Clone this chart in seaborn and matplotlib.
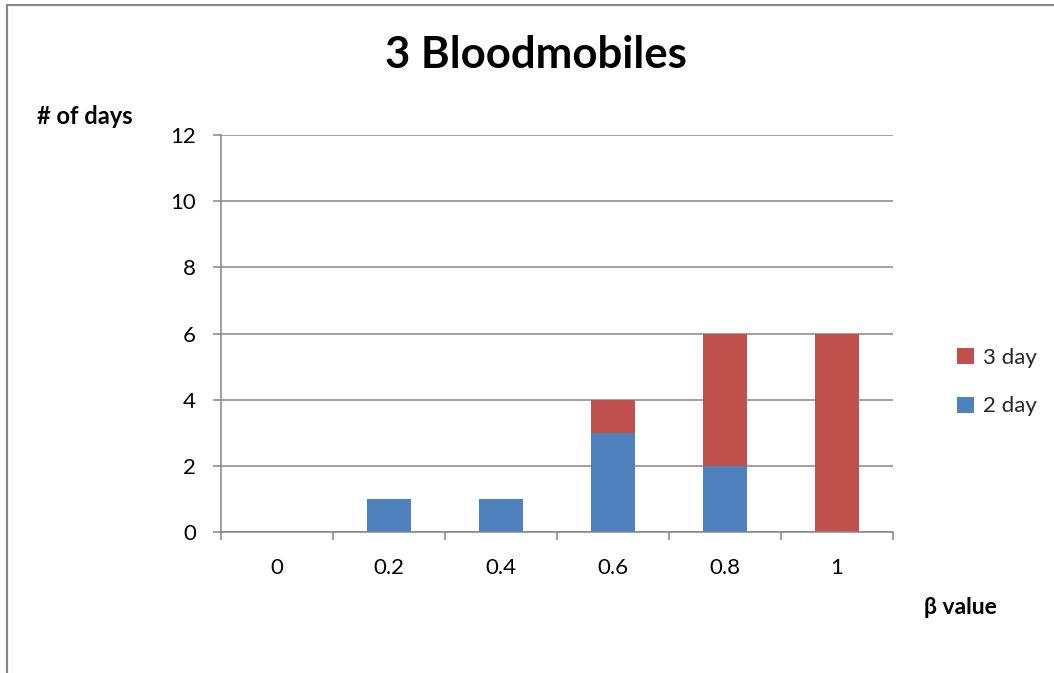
import matplotlib
matplotlib.use("Agg")
import matplotlib.pyplot as plt
from matplotlib.lines import Line2D
from matplotlib.patches import Patch
import seaborn as sns
import pandas as pd

beta_values = ["0", "0.2", "0.4", "0.6", "0.8", "1"]
two_day = [0, 1, 1, 3, 2, 0]
three_day = [0, 0, 0, 1, 4, 6]

BLUE = "#4F81BD"
RED = "#C0504D"
GRID = "#868686"

sns.set_theme(style="white")
plt.rcParams["font.family"] = ["Lato", "DejaVu Sans"]

df = pd.DataFrame({"beta": beta_values, "two": two_day, "three": three_day})
df["total"] = df["two"] + df["three"]

fig = plt.figure(figsize=(10.54, 6.73), dpi=100)
ax = fig.add_axes([221 / 1054, 1 - 532 / 673, 672 / 1054, 397 / 673])

# stacked bars: full height in red, the 2-day part drawn over it in blue
sns.barplot(data=df, x="beta", y="total", color=RED, width=0.4, saturation=1,
            linewidth=0, ax=ax, order=beta_values)
sns.barplot(data=df, x="beta", y="two", color=BLUE, width=0.4, saturation=1,
            linewidth=0, ax=ax, order=beta_values)

ax.set_xlim(-0.5, 5.5)
ax.set_ylim(0, 12)
ax.set_yticks(range(0, 13, 2))
ax.yaxis.grid(True, color=GRID, linewidth=1.1)
ax.set_axisbelow(True)
for side in ("top", "right"):
    ax.spines[side].set_visible(False)
for side in ("left", "bottom"):
    ax.spines[side].set_color(GRID)
    ax.spines[side].set_linewidth(1.1)

ax.set_xticks(range(6))
ax.set_xticklabels(beta_values)
ax.set_xticks([i - 0.5 for i in range(7)], minor=True)
ax.tick_params(axis="x", which="major", length=0, pad=19, labelsize=16,
               labelcolor="black")
ax.tick_params(axis="x", which="minor", length=6, width=1.1, color=GRID,
               direction="out", bottom=True)
ax.tick_params(axis="y", which="major", length=6, width=1.1, color=GRID,
               direction="out", left=True, pad=12, labelsize=16,
               labelcolor="black")
ax.set_xlabel("")
ax.set_ylabel("")

fig.text(536 / 1054, 1 - 55 / 673, "3 Bloodmobiles", ha="center", va="center",
         fontsize=31.5, fontweight="bold", color="black")
fig.text(37 / 1054, 1 - 117 / 673, "# of days", ha="left", va="center",
         fontsize=17, fontweight="bold", color="black")
fig.text(960 / 1054, 1 - 608 / 673, "β value", ha="center", va="center",
         fontsize=16.5, fontweight="bold", color="black")

handles = [Patch(facecolor=RED, edgecolor="none", label="3 day"),
           Patch(facecolor=BLUE, edgecolor="none", label="2 day")]
fig.legend(handles=handles, loc="center left",
           bbox_to_anchor=(937 / 1054, 1 - 382 / 673), frameon=False,
           fontsize=16, handlelength=0.75, handleheight=0.75,
           handletextpad=0.4, labelspacing=1.3)

# outer chart frame (top and left edges)
fig.add_artist(Line2D([7 / 1054, 1.0], [1 - 5 / 673, 1 - 5 / 673],
                      transform=fig.transFigure, color=GRID, linewidth=1.5))
fig.add_artist(Line2D([7 / 1054, 7 / 1054], [0.0, 1 - 5 / 673],
                      transform=fig.transFigure, color=GRID, linewidth=1.5))

fig.savefig("out.png", dpi=100)
